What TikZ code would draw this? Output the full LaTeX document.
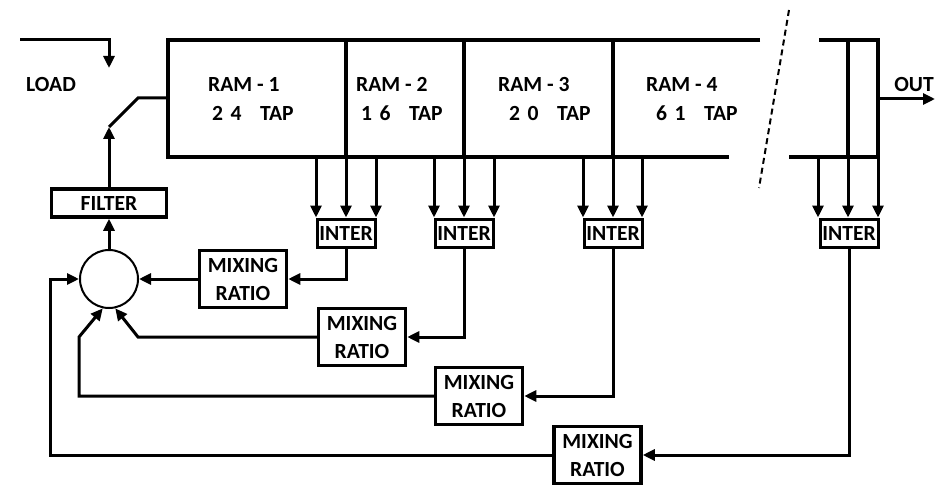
\documentclass[tikz,border=0pt]{standalone}
\usepackage{fontspec}
\setmainfont{Carlito}
\usetikzlibrary{arrows.meta}
\begin{document}
\begin{tikzpicture}[x=1pt,y=-1pt,
  thickline/.style={line width=4pt},
  plain/.style={line width=3pt},
  conn/.style={line width=3pt,-{Triangle[length=12pt,width=11pt]}},
  txt/.style={inner sep=0pt,font=\fontsize{21.6}{28}\selectfont\bfseries},
  boxA/.style={draw,line width=3.5pt,inner sep=0pt,align=center,font=\fontsize{21.6}{28}\selectfont\bfseries},
  mixbox/.style={boxA,minimum width=87pt,minimum height=57pt},
  interbox/.style={draw,line width=3pt,inner sep=0pt,minimum width=58pt,minimum height=28pt,font=\fontsize{21.6}{28}\selectfont\bfseries},
]
\useasboundingbox (0,0) rectangle (950,500);

% RAM block
\draw[thickline] (760,40) -- (168,40) -- (168,157) -- (729,157);
\draw[thickline] (346,40) -- (346,157);
\draw[thickline] (464,40) -- (464,157);
\draw[thickline] (613,40) -- (613,157);
\draw[thickline] (819,40) -- (878,40) -- (878,157) -- (789,157);
\draw[thickline] (848,40) -- (848,157);
\draw[line width=2pt,dash pattern=on 6pt off 4pt] (789,10) -- (759,188);

% RAM texts
\node[txt,anchor=base west] (r1) at (208,92) {RAM - 1};
\node[txt,anchor=base west] (t1) at (212,121) {2\hspace{7.5pt}4\hspace{18.5pt}TAP};
\node[txt,anchor=base west] (r2) at (356,92) {RAM - 2};
\node[txt,anchor=base west] (t2) at (361,121) {1\hspace{7.5pt}6\hspace{18.5pt}TAP};
\node[txt,anchor=base west] (r3) at (498,92) {RAM - 3};
\node[txt,anchor=base west] (t3) at (509,121) {2\hspace{7.5pt}0\hspace{18.5pt}TAP};
\node[txt,anchor=base west] (r4) at (646,92) {RAM - 4};
\node[txt,anchor=base west] (t4) at (656,121) {6\hspace{7.5pt}1\hspace{18.5pt}TAP};

% LOAD / OUT
\node[txt] (load) at (51,84) {LOAD};
\coordinate (loadstart) at (20,40);
\coordinate (loadend) at (109,68);
\draw[conn] (loadstart) -| (loadend);
\node[txt] (out) at (914,84.5) {OUT};
\coordinate (outstart) at (878,99);
\coordinate (outend) at (935,99);
\draw[conn] (outstart) -- (outend);

% filter, switch, summing circle
\node[boxA,minimum width=115pt,minimum height=28pt] (filter) at (109,203) {FILTER};
\node[draw,circle,line width=2pt,minimum size=58pt,inner sep=0pt] (sum) at (109,279) {};
\coordinate (sw) at (109,127);
\coordinate (ramin) at (168,98);
\draw[conn] (filter.north) -- (sw);
\draw[plain] (sw) -- (138,98) -- (ramin);
\draw[conn] (sum.north) -- (filter.south);

% INTER boxes
\node[interbox] (i1) at (346,233) {INTER};
\node[interbox] (i2) at (464,233) {INTER};
\node[interbox] (i3) at (613,233) {INTER};
\node[interbox] (i4) at (849,233) {INTER};

% taps
\coordinate (a1) at (316,157); \coordinate (b1) at (346,157); \coordinate (c1) at (376,157);
\coordinate (a2) at (434,157); \coordinate (b2) at (464,157); \coordinate (c2) at (494,157);
\coordinate (a3) at (583,157); \coordinate (b3) at (613,157); \coordinate (c3) at (642,157);
\coordinate (a4) at (818,157); \coordinate (b4) at (848,157); \coordinate (c4) at (878,157);
\foreach \g in {1,2,3,4}{
  \foreach \p in {a,b,c}{
    \draw[conn] (\p\g) -- (\p\g |- i\g.north);
  }
}

% MIXING RATIO boxes
\node[mixbox] (m1) at (243,279) {MIXING\\RATIO};
\node[mixbox] (m2) at (362,337) {MIXING\\RATIO};
\node[mixbox] (m3) at (479,396) {MIXING\\RATIO};
\node[mixbox] (m4) at (597.5,455) {MIXING\\RATIO};

\draw[conn] (i1.south) |- (m1.east);
\draw[conn] (i2.south) |- (m2.east);
\draw[conn] (i3.south) |- (m3.east);
\draw[conn] (i4.south) |- (m4.east);

\draw[conn] (m1.west) -- (sum.east);
\draw[conn] (m2.west) -- (138,337) -- (sum.-78);
\draw[conn] (m3.west) -| (79,337) -- (sum.-102);
\draw[conn] (m4.west) -| (50,279) -- (sum.west);
\end{tikzpicture}
\end{document}
